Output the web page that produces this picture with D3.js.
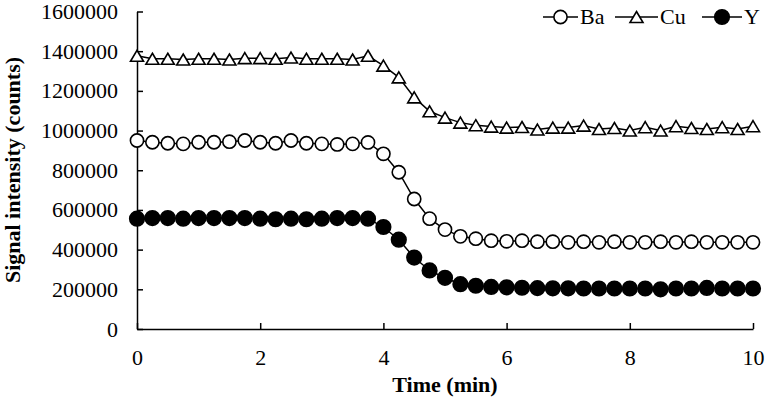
<!doctype html>
<html>
<head>
<meta charset="utf-8">
<script src="https://d3js.org/d3.v7.min.js"></script>
<style>
  body { margin: 0; background: #fff; }
</style>
</head>
<body>
<svg id="chart" width="765" height="400"></svg>
<script>
// time points (min)
var times = [0, 0.25, 0.5, 0.75, 1, 1.25, 1.5, 1.75, 2, 2.25, 2.5, 2.75, 3, 3.25, 3.5, 3.75,
             4, 4.25, 4.5, 4.75, 5, 5.25, 5.5, 5.75, 6, 6.25, 6.5, 6.75, 7, 7.25, 7.5, 7.75,
             8, 8.25, 8.5, 8.75, 9, 9.25, 9.5, 9.75, 10];

var baValues = [950000, 941000, 936000, 933000, 941000, 941000, 944000, 950000, 941000, 936000,
                950000, 936000, 933000, 930000, 933000, 940000, 883000, 790000, 655000, 556000,
                501000, 467000, 455000, 445000, 442000, 445000, 440000, 440000, 437000, 440000,
                437000, 440000, 437000, 437000, 440000, 437000, 440000, 437000, 437000, 437000, 437000];

var cuValues = [1377000, 1362000, 1362000, 1358000, 1362000, 1362000, 1358000, 1365000, 1365000, 1362000,
                1368000, 1362000, 1362000, 1362000, 1358000, 1377000, 1327000, 1268000, 1167000, 1097000,
                1065000, 1040000, 1027000, 1020000, 1015000, 1018000, 1005000, 1015000, 1015000, 1025000,
                1008000, 1013000, 1000000, 1017000, 1000000, 1022000, 1013000, 1008000, 1017000, 1008000, 1022000];

var yValues = [556000, 559000, 559000, 556000, 559000, 559000, 559000, 559000, 556000, 553000,
               556000, 553000, 556000, 559000, 559000, 556000, 514000, 450000, 360000, 295000,
               258000, 226000, 218000, 212000, 210000, 208000, 206000, 205000, 205000, 204000,
               204000, 204000, 204000, 204000, 200000, 204000, 204000, 207000, 204000, 204000, 204000];

var seriesNames = ["Ba", "Cu", "Y"];
var xTicks = [0, 2, 4, 6, 8, 10];
var yTicks = [0, 200000, 400000, 600000, 800000, 1000000, 1200000, 1400000, 1600000];

var serif = "'Liberation Serif', serif";

var margin = {top: 11.5, right: 12, bottom: 71, left: 137};
var width = 765 - margin.left - margin.right,
    height = 400 - margin.top - margin.bottom;

var svg = d3.select("#chart");
var g = svg.append("g")
    .attr("transform", "translate(" + margin.left + "," + margin.top + ")");

var x = d3.scaleLinear().domain([0, 10]).range([0, width]);
var y = d3.scaleLinear().domain([0, 1600000]).range([height, 0]);

// axes, ticks point inward
var xAxis = g.append("g")
    .attr("transform", "translate(0," + height + ")")
    .call(d3.axisBottom(x).tickValues(xTicks).tickSizeInner(-6).tickSizeOuter(0).tickPadding(20).tickFormat(d3.format("d")));
var yAxis = g.append("g")
    .call(d3.axisLeft(y).tickValues(yTicks).tickSizeInner(-6).tickSizeOuter(0).tickPadding(19).tickFormat(d3.format("d")));
g.selectAll(".domain, .tick line").attr("stroke", "#000").attr("stroke-width", 1.5);
g.selectAll(".tick text").style("font-family", serif).style("font-size", "22px").attr("fill", "#000");

// titles
svg.append("text")
    .attr("text-anchor", "middle")
    .attr("x", 445).attr("y", 392)
    .style("font-family", serif).style("font-size", "22px").style("font-weight", "bold")
    .text("Time (min)");
svg.append("text")
    .attr("text-anchor", "middle")
    .attr("transform", "translate(20,170) rotate(-90)")
    .style("font-family", serif).style("font-size", "22px").style("font-weight", "bold")
    .text("Signal intensity (counts)");

function triangle(w, h) {
  return "M0," + (-h / 2) + "L" + (w / 2) + "," + (h / 2) + "L" + (-w / 2) + "," + (h / 2) + "Z";
}

function drawMarker(sel, name) {
  if (name == "Cu") {
    sel.append("path").attr("d", triangle(13, 11))
      .attr("fill", "#fff").attr("stroke", "#000").attr("stroke-width", 1.6)
      .attr("stroke-linejoin", "miter");
  } else {
    sel.append("circle").attr("r", name == "Y" ? 7.3 : 6.6)
      .attr("fill", name == "Y" ? "#000" : "#fff")
      .attr("stroke", "#000").attr("stroke-width", 1.6);
  }
}

var allSeries = [baValues, cuValues, yValues];
var line = d3.line().x((d, i) => x(times[i])).y(d => y(d));

allSeries.forEach(function(vals, k) {
  g.append("path").datum(vals)
    .attr("d", line)
    .attr("fill", "none").attr("stroke", "#000").attr("stroke-width", 1.5);
  g.selectAll(".m" + k).data(vals).enter().append("g")
    .attr("class", "m" + k)
    .attr("transform", (d, i) => "translate(" + x(times[i]) + "," + y(d) + ")")
    .each(function() { drawMarker(d3.select(this), seriesNames[k]); });
});

// legend
var legendX = [543, 615, 702];
var legend = svg.append("g");
seriesNames.forEach(function(name, k) {
  var lg = legend.append("g").attr("transform", "translate(" + legendX[k] + ",17)");
  var lw = name == "Y" ? 40 : (name == "Cu" ? 43 : 35);
  lg.append("line").attr("x1", 0).attr("x2", lw).attr("y1", 0).attr("y2", 0)
    .attr("stroke", "#000").attr("stroke-width", 1.5);
  var mk = lg.append("g").attr("transform", "translate(" + (lw / 2) + ",0)");
  drawMarker(mk, name);
  lg.append("text").attr("x", lw + 2).attr("y", 7)
    .style("font-family", serif).style("font-size", "22px").text(name);
});
</script>
</body>
</html>
